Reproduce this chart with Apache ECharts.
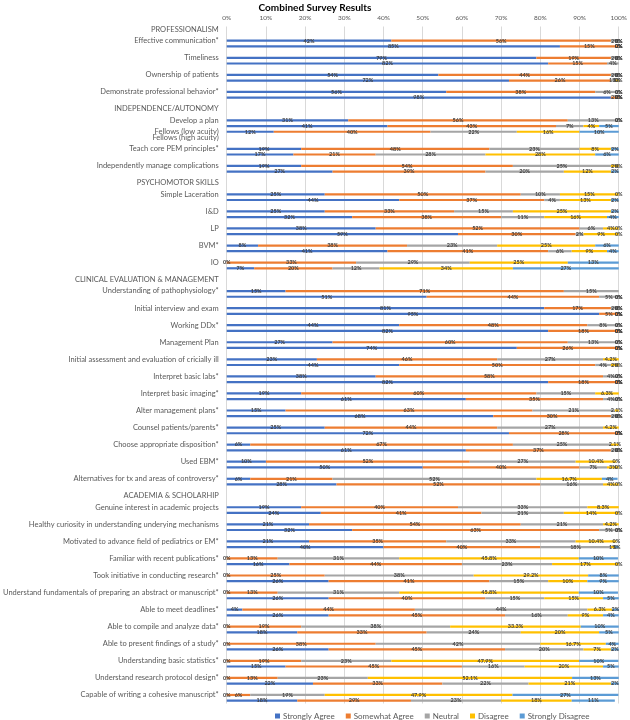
<!DOCTYPE html>
<html>
<head>
<meta charset="utf-8">
<script src="https://cdn.jsdelivr.net/npm/echarts@6/dist/echarts.min.js"></script>
<style>html,body{margin:0;padding:0;background:#fff}#c{width:630px;height:720px}</style>
</head>
<body>
<div id="c"></div>
<script>
// ---- DATA ----
const sections = ['PROFESSIONALISM', 'INDEPENDENCE/AUTONOMY', 'PSYCHOMOTOR SKILLS', 'CLINICAL EVALUATION & MANAGEMENT', 'ACADEMIA & SCHOLARHIP'];
const sectionSizes = [4, 3, 5, 12, 12];
const itemLabels = [
  'Effective communication*', 'Timeliness', 'Ownership of patients', 'Demonstrate professional behavior*',
  'Develop a plan', 'Teach core PEM principles*', 'Independently manage complications',
  'Simple Laceration', 'I&D', 'LP', 'BVM*', 'IO',
  'Understanding of pathophysiology*', 'Initial interview and exam', 'Working DDx*', 'Management Plan',
  'Initial assessment and evaluation of cricially ill', 'Interpret basic labs*', 'Interpret basic imaging*',
  'Alter management plans*', 'Counsel patients/parents*', 'Choose appropriate disposition*', 'Used EBM*',
  'Alternatives for tx and areas of controversy*',
  'Genuine interest in academic projects', 'Healthy curiosity in understanding underying mechanisms',
  'Motivated to advance field of pediatrics or EM*', 'Familiar with recent publications*',
  'Took initiative in conducting research*', 'Understand fundamentals of preparing an abstract or manuscript*',
  'Able to meet deadlines*', 'Able to compile and analyze data*', 'Able to present findings of a study*',
  'Understanding basic statistics*', 'Understand research protocol design*', 'Capable of writing a cohesive manuscript*'
];
const extraBarLabel = 'Fellows (low acuity)';
const extraRowLabel = 'Fellows (high acuity)';
const threeBarItem = 'Develop a plan';
const seriesNames = ['Strongly Agree', 'Somewhat Agree', 'Neutral', 'Disagree', 'Strongly Disagree'];
const xTicks = [0, 10, 20, 30, 40, 50, 60, 70, 80, 90, 100];

// values per bar, in item order (two bars per item, three for "Develop a plan")
const stronglyAgree = [42,85, 79,82, 54,72, 56,98, 31,41,12, 19,17, 19,27,
  25,44, 25,32, 38,59, 8,41, 0,7,
  15,51, 81,95, 44,82, 27,74, 23,44, 38,82, 19,61, 15,68, 25,72, 6,61, 10,50, 6,28,
  19,24, 21,32, 21,40, 0,16, 0,26, 0,26, 4,26, 0,18, 0,26, 0,15, 0,22, 0,18];
const somewhatAgree = [56,15, 19,15, 44,26, 38,2, 56,43,40, 48,21, 54,39,
  50,37, 33,38, 52,30, 38,41, 33,20,
  71,44, 17,5, 48,18, 60,26, 46,50, 58,18, 60,35, 63,30, 44,28, 67,37, 52,40, 21,52,
  40,41, 54,63, 35,40, 13,44, 25,41, 13,40, 44,45, 19,33, 38,45, 19,45, 13,33, 6,29];
const neutral = [2,0, 2,4, 2,1, 6,0, 13,7,22, 23,28, 25,20,
  10,4, 15,11, 6,2, 23,6, 29,12,
  15,5, 2,0, 8,0, 13,0, 27,4, 4,0, 15,4, 21,2, 27,0, 25,2, 27,7, 52,16,
  33,21, 21,5, 33,18, 31,23, 38,15, 31,15, 44,16, 38,24, 42,20, 23,16, 23,22, 19,23];
const disagree = [0,0, 0,0, 0,1, 0,0, 0,4,16, 8,28, 2,12,
  15,13, 25,16, 4,9, 25,9, 25,34,
  0,0, 0,0, 0,0, 0,0, 4.2,2, 0,0, 6.3,0, 2.1,0, 4.2,0, 2.1,0, 10.4,3, 16.7,4,
  8.3,14, 4.2,0, 10.4,1, 45.8,17, 29.2,10, 45.8,15, 6.3,9, 33.3,20, 16.7,7, 47.9,20, 52.1,21, 47.9,18];
const stronglyDisagree = [0,0, 0,0, 0,0, 0,0, 0,5,10, 2,6, 0,2,
  0,2, 2,4, 0,0, 6,4, 13,27,
  0,0, 0,0, 0,0, 0,0, 0,0, 0,0, 0,0, 0,0, 0,0, 0,0, 0,0, 4,0,
  0,0, 0,0, 0,1, 10,0, 8,9, 10,5, 2,4, 10,5, 4,2, 10,5, 13,2, 27,11];
const colors = ['#4472C4', '#ED7D31', '#A5A5A5', '#FFC000', '#5B9BD5'];

// ---- build rows ----
const rowLabels = [];
const rowBar = []; // index into value arrays or -1
let barIdx = 0, itemIdx = 0;
sections.forEach((s, si) => {
  rowLabels.push(s); rowBar.push(-1);
  rowLabels.push(''); rowBar.push(-1);
  for (let k = 0; k < sectionSizes[si]; k++) {
    const lab = itemLabels[itemIdx++];
    rowLabels.push(lab); rowBar.push(barIdx++);
    rowLabels.push(''); rowBar.push(barIdx++);
    if (lab === threeBarItem) {
      rowLabels.push(extraBarLabel); rowBar.push(barIdx++);
      rowLabels.push(extraRowLabel); rowBar.push(-1);
    }
    rowLabels.push(''); rowBar.push(-1);
  }
});
rowLabels.pop(); rowBar.pop();
const rowCats = rowLabels.map((l, i) => 'r' + i);

const valueSets = [stronglyAgree, somewhatAgree, neutral, disagree, stronglyDisagree];
const FONT = 'Lato, "Open Sans", sans-serif';
const series = seriesNames.map((name, si) => ({
  name, type: 'bar', stack: 'total', barWidth: 2.2,
  itemStyle: { color: colors[si] },
  data: rowBar.map(b => b < 0 ? '-' : valueSets[si][b]),
  label: {
    show: true, position: 'inside', fontSize: 5.5, fontWeight: 'bold',
    color: '#404040', fontFamily: FONT,
    formatter: p => (p.value === '-' || p.value == null) ? '' : p.value + '%'
  },
  emphasis: { disabled: true },
  silent: true, animation: false
}));

const chart = echarts.init(document.getElementById('c'), null, { renderer: 'canvas' });
chart.setOption({
  animation: false,
  textStyle: { fontFamily: FONT },
  title: {
    text: 'Combined Survey Results', left: 'center', top: -2,
    textStyle: { fontSize: 10, fontWeight: 'bold', color: '#000', fontFamily: FONT }
  },
  legend: {
    bottom: -5, left: 270, itemWidth: 5, itemHeight: 5, itemGap: 11,
    icon: 'rect',
    textStyle: { fontSize: 8, color: '#595959', fontFamily: FONT, padding: [0, 0, 0, -2] },
    data: seriesNames
  },
  grid: { left: 211, right: 8, top: 26.5, bottom: 16.5, containLabel: false },
  xAxis: {
    type: 'value', position: 'top', min: 0, max: 100, interval: 10,
    axisLine: { show: false }, axisTick: { show: false },
    splitLine: { lineStyle: { color: '#D9D9D9', width: 1 } },
    axisLabel: { fontSize: 6.5, color: '#595959', margin: 5, formatter: v => xTicks.includes(v) ? v + '%' : '' }
  },
  yAxis: {
    type: 'category', inverse: true, data: rowCats,
    axisLine: { show: false }, axisTick: { show: false },
    axisLabel: {
      interval: 0, fontSize: 7.5, color: '#595959', margin: 8, fontFamily: FONT,
      formatter: (v) => rowLabels[+v.slice(1)]
    }
  },
  series
});
</script>
</body>
</html>
